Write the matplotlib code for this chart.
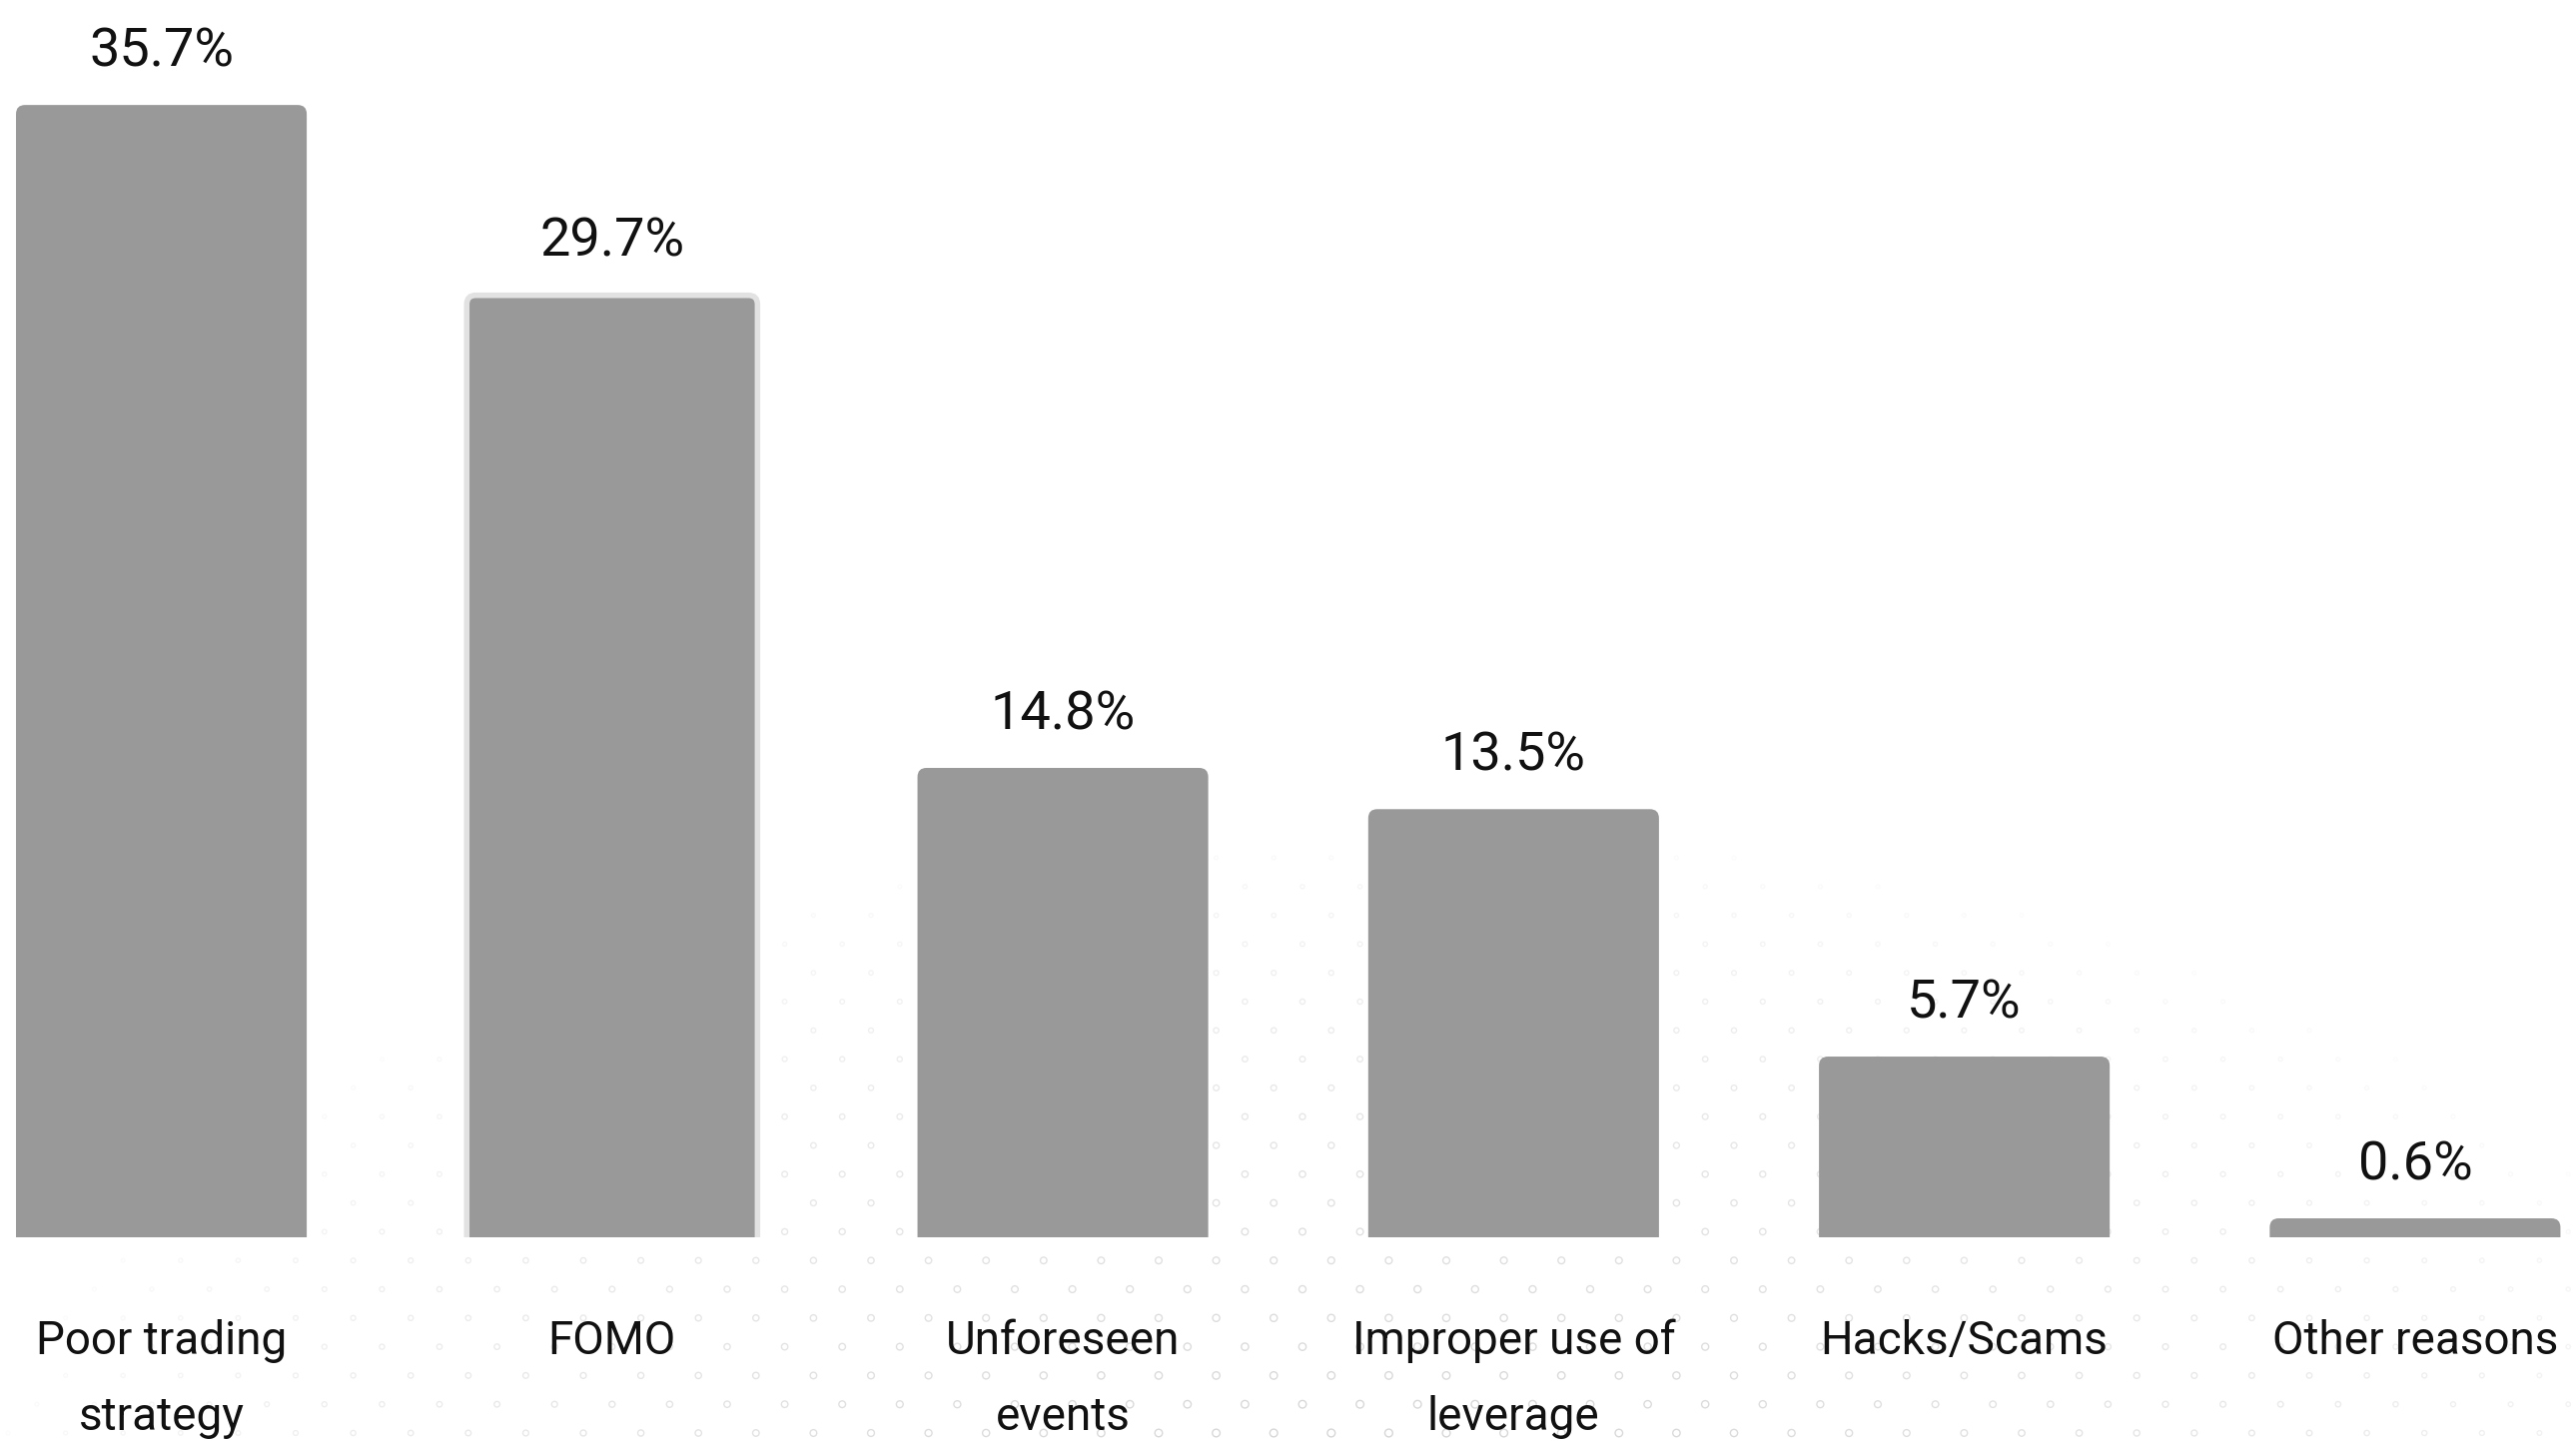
import numpy as np
import matplotlib
matplotlib.use("Agg")
import matplotlib.pyplot as plt
from matplotlib.patches import FancyBboxPatch, Rectangle

plt.rcParams['font.family'] = ['Roboto', 'DejaVu Sans']

# Reasons for trading losses (share of respondents, %)
categories = ["Poor trading\nstrategy", "FOMO", "Unforeseen\nevents",
              "Improper use of\nleverage", "Hacks/Scams", "Other reasons"]
values = [35.7, 29.7, 14.8, 13.5, 5.7, 0.6]
value_labels = ["35.7%", "29.7%", "14.8%", "13.5%", "5.7%", "0.6%"]

W, H = 2579, 1443
fig = plt.figure(figsize=(W / 100, H / 100), dpi=100)
fig.patch.set_facecolor("white")
ax = fig.add_axes([0, 0, 1, 1])
ax.set_xlim(-0.358, 5.357)
ax.set_ylim(-6.42, 39.01)
ax.axis("off")

# faint staggered ring texture in the lower part of the canvas
bg = fig.add_axes([0, 0, 1, 1], zorder=-1)
bg.set_xlim(0, W)
bg.set_ylim(H, 0)
bg.axis("off")
step = 28.8
px_list, py_list, inten = [], [], []
for r, py in enumerate(np.arange(H - 8, 780, -step)):
    off = 0 if r % 2 == 0 else step
    for px in np.arange(8 + off, W, 2 * step):
        t = np.hypot((px - 1380) / 1420.0, (py - 1540) / 720.0)
        k = 1.0 - t
        if k > 0.02:
            px_list.append(px)
            py_list.append(py)
            inten.append(k)
inten = np.array(inten)
cols = np.zeros((len(inten), 4))
cols[:, :3] = 0.78
cols[:, 3] = np.clip(0.8 * inten ** 0.7, 0, 1)
bg.scatter(px_list, py_list, s=6 + 30 * inten, facecolors="none",
           edgecolors=cols, linewidths=1.0)

# bars with rounded top corners, flat at the baseline
bar_color = "#999999"
width = 0.645
bars = ax.bar(range(len(values)), values, width=width, visible=False)
xs_per_px = (5.357 + 0.358) / W
ys_per_px = (39.01 + 6.42) / H
radius = 9 * xs_per_px
aspect = ys_per_px / xs_per_px
for i, rect in enumerate(bars):
    x0, w, h = rect.get_x(), rect.get_width(), rect.get_height()
    clip = Rectangle((x0 - 0.05, 0), w + 0.1, h + 5, transform=ax.transData)
    edge = "#e2e2e2" if i == 1 else bar_color
    lw = 4.0 if i == 1 else 0.0
    patch = FancyBboxPatch((x0, -3), w, h + 3,
                           boxstyle=f"round,pad=0,rounding_size={radius}",
                           mutation_aspect=aspect, facecolor=bar_color,
                           edgecolor=edge, linewidth=lw, zorder=2)
    ax.add_patch(patch)
    patch.set_clip_path(clip)

    ax.annotate(value_labels[i], (rect.get_x() + w / 2, h),
                xytext=(0, 28), textcoords="offset points",
                ha="center", va="baseline", fontsize=39, color="#111111")

# category labels, drawn one line at a time
line_pitch = 76 * ys_per_px
first_baseline = -117 * ys_per_px
for i, lab in enumerate(categories):
    for j, line in enumerate(lab.split("\n")):
        ax.text(i, first_baseline - j * line_pitch, line, ha="center",
                va="baseline", fontsize=33, color="#111111")

fig.savefig("out.png", dpi=100, facecolor="white")
